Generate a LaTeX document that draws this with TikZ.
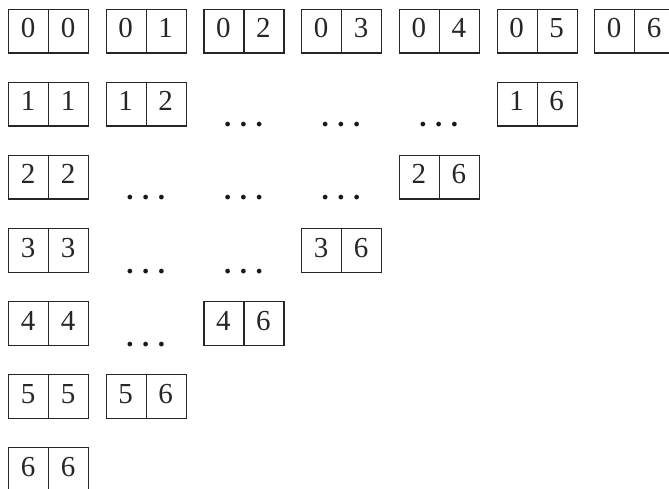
\documentclass[tikz,border=0pt]{standalone}
\usepackage{fontspec}
\setmainfont{Liberation Serif}
\begin{document}
\begin{tikzpicture}[x=1pt,y=-1pt,
  domino/.style={draw=black!85, line width=1.2pt, minimum width=80pt, minimum height=43.5pt, inner sep=0pt, anchor=north west},
  divider/.style={draw=black!85, line width=1.2pt},
  pip/.style={font=\fontsize{29}{30}\selectfont, text=black!85, anchor=base, inner sep=0pt},
  ell/.style={font=\fontsize{29}{30}\selectfont\bfseries, text=black!90, anchor=base, inner sep=0pt}]
\useasboundingbox (0,0) rectangle (669,489);
\clip (0,0) rectangle (669,489);
\foreach \r/\c/\a/\b in {0/0/0/0,0/1/0/1,0/2/0/2,0/3/0/3,0/4/0/4,0/5/0/5,0/6/0/6,
  1/0/1/1,1/1/1/2,1/5/1/6,
  2/0/2/2,2/4/2/6,
  3/0/3/3,3/3/3/6,
  4/0/4/4,4/2/4/6,
  5/0/5/5,5/1/5/6,
  6/0/6/6}{
  \pgfmathsetmacro\xx{8+97.7*\c}
  \pgfmathsetmacro\yy{9+73*\r}
  \node[domino] (d\a\b) at (\xx,\yy) {};
  \draw[divider] (d\a\b.north) -- (d\a\b.south);
  \node[pip] (p\a\b a) at (\xx+20,\yy+29) {\a};
  \node[pip] (p\a\b b) at (\xx+60,\yy+29) {\b};
}
\foreach \r/\c in {1/2,1/3,1/4,2/1,2/2,2/3,3/1,3/2,4/1}{
  \pgfmathsetmacro\xx{8+97.7*\c+40}
  \pgfmathsetmacro\yy{9+73*\r+45}
  \node[ell] (e\r\c) at (\xx,\yy) {.\kern8.5pt.\kern8.5pt.};
}
\end{tikzpicture}
\end{document}
